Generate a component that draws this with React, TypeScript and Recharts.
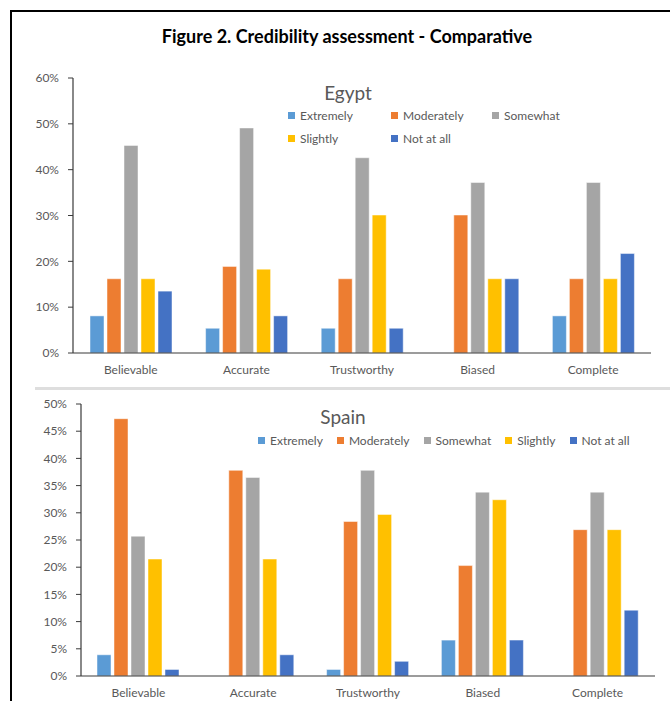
import React from "react";
import { BarChart, Bar, XAxis, YAxis } from "recharts";

const categories = ["Believable", "Accurate", "Trustworthy", "Biased", "Complete"];
const seriesNames = ["Extremely", "Moderately", "Somewhat", "Slightly", "Not at all"];
const seriesColors = ["#5B9BD5", "#ED7D31", "#A5A5A5", "#FFC000", "#4472C4"];

const egyptExtremely = [8.1, 5.4, 5.4, 0, 8.1];
const egyptModerately = [16.2, 18.9, 16.2, 30.1, 16.2];
const egyptSomewhat = [45.3, 49.1, 42.6, 37.2, 37.2];
const egyptSlightly = [16.2, 18.3, 30.1, 16.2, 16.2];
const egyptNotAtAll = [13.5, 8.1, 5.4, 16.2, 21.7];

const spainExtremely = [3.9, 0, 1.2, 6.6, 0];
const spainModerately = [47.3, 37.8, 28.4, 20.3, 26.9];
const spainSomewhat = [25.7, 36.5, 37.8, 33.8, 33.8];
const spainSlightly = [21.5, 21.5, 29.7, 32.4, 26.9];
const spainNotAtAll = [1.2, 3.9, 2.7, 6.6, 12.1];

const egyptTicks = [0, 10, 20, 30, 40, 50, 60];
const spainTicks = [0, 5, 10, 15, 20, 25, 30, 35, 40, 45, 50];

const egyptSeries = [egyptExtremely, egyptModerately, egyptSomewhat, egyptSlightly, egyptNotAtAll];
const spainSeries = [spainExtremely, spainModerately, spainSomewhat, spainSlightly, spainNotAtAll];

const keys = ["s0", "s1", "s2", "s3", "s4"];

function buildRows(series: number[][]) {
  return categories.map((c, i) => {
    const row: any = { name: c };
    series.forEach((s, k) => {
      row[keys[k]] = s[i];
    });
    return row;
  });
}

const egyptData = buildRows(egyptSeries);
const spainData = buildRows(spainSeries);

const FONT = "Lato, 'Open Sans', sans-serif";
const GRAY = "#595959";
const AXIS = "#3a3a3a";

function LegendItem({ name, color, width }: { name: string; color: string; width?: number }) {
  return (
    <div style={{ display: "flex", alignItems: "center", width: width, whiteSpace: "nowrap" }}>
      <span style={{ display: "inline-block", width: 7, height: 7, background: color, marginRight: 5 }} />
      <span style={{ fontSize: 12, color: GRAY }}>{name}</span>
    </div>
  );
}

function Chart({ data, ticks, max, width, height, margin }: any) {
  return (
    <BarChart width={width} height={height} data={data} margin={margin} barSize={14} barGap={3}>
      <XAxis
        dataKey="name"
        tickLine={false}
        axisLine={{ stroke: AXIS, strokeWidth: 1.2 }}
        tick={{ fill: GRAY, fontSize: 12 }}
        tickMargin={6}
        height={30}
        interval={0}
      />
      <YAxis
        domain={[0, max]}
        ticks={ticks}
        tickFormatter={(v: number) => `${v}%`}
        axisLine={{ stroke: AXIS, strokeWidth: 1.2 }}
        tickLine={{ stroke: AXIS }}
        tickSize={5}
        tickMargin={9}
        tick={{ fill: GRAY, fontSize: 12 }}
        width={60}
        interval={0}
        allowDataOverflow
      />
      {keys.map((k, i) => (
        <Bar
          key={k}
          dataKey={k}
          name={seriesNames[i]}
          fill={seriesColors[i]}
          stroke="#ffffff"
          strokeOpacity={0.6}
          strokeWidth={0.8}
          isAnimationActive={false}
        />
      ))}
    </BarChart>
  );
}

export default function App() {
  return (
    <div style={{ position: "absolute", left: 0, top: 0, width: 670, height: 701, background: "#fff", fontFamily: FONT, overflow: "hidden" }}>
      <div style={{ position: "absolute", left: 10, top: 10, width: 670, height: 700, borderTop: "2px solid #000", borderLeft: "2px solid #000" }} />
      <div style={{ position: "absolute", left: 0, top: 25, width: 694, textAlign: "center", fontSize: 18, fontWeight: 700, color: "#000", fontFamily: "Lato, sans-serif" }}>
        Figure 2. Credibility assessment - Comparative
      </div>

      <div style={{ position: "absolute", left: 0, top: 0 }}>
        <Chart data={egyptData} ticks={egyptTicks} max={60} width={670} height={390} margin={{ top: 78, right: 19, left: 13, bottom: 7 }} />
      </div>
      <div style={{ position: "absolute", left: 298, top: 81, width: 100, textAlign: "center", fontSize: 19, color: GRAY }}>Egypt</div>
      <div style={{ position: "absolute", left: 288, top: 108, display: "grid", gridTemplateColumns: "103px 101px 101px", rowGap: 8 }}>
        {seriesNames.map((n, i) => (
          <LegendItem key={n} name={n} color={seriesColors[i]} />
        ))}
      </div>

      <div style={{ position: "absolute", left: 35, top: 387, width: 635, height: 3, background: "#dedede" }} />

      <div style={{ position: "absolute", left: 0, top: 380 }}>
        <Chart data={spainData} ticks={spainTicks} max={50} width={670} height={326} margin={{ top: 24, right: 15, left: 21, bottom: 0 }} />
      </div>
      <div style={{ position: "absolute", left: 293, top: 405, width: 100, textAlign: "center", fontSize: 19, color: GRAY }}>Spain</div>
      <div style={{ position: "absolute", left: 258, top: 433, display: "flex", gap: 14 }}>
        {seriesNames.map((n, i) => (
          <LegendItem key={n} name={n} color={seriesColors[i]} />
        ))}
      </div>
    </div>
  );
}
